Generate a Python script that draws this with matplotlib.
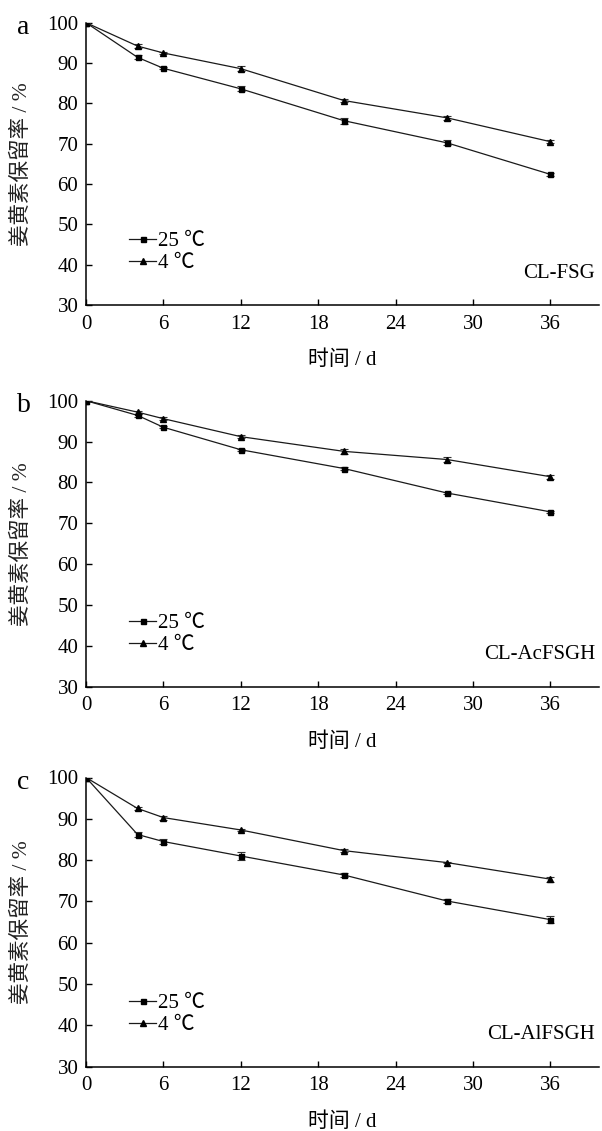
import matplotlib
matplotlib.use("Agg")
import matplotlib.pyplot as plt

plt.rcParams['font.family'] = ['Liberation Serif', 'Noto Sans CJK SC', 'DejaVu Sans']

days = [0, 4, 6, 12, 20, 28, 36]

a_25 = [100, 91.4, 88.7, 83.6, 75.7, 70.2, 62.4]
a_25_err = [0, 0.5, 0.3, 0.6, 0.7, 0.6, 0.3]
a_4 = [100, 94.2, 92.5, 88.6, 80.7, 76.4, 70.5]
a_4_err = [0, 0.5, 0.3, 0.6, 0.4, 0.5, 0.4]

b_25 = [100, 96.4, 93.5, 88.0, 83.4, 77.4, 72.8]
b_25_err = [0, 0.4, 0.3, 0.3, 0.3, 0.3, 0.3]
b_4 = [100, 97.2, 95.6, 91.2, 87.6, 85.6, 81.4]
b_4_err = [0, 0.4, 0.3, 0.3, 0.7, 0.6, 0.5]

c_25 = [100, 86.2, 84.5, 81.0, 76.4, 70.1, 65.6]
c_25_err = [0, 0.7, 0.7, 0.9, 0.5, 0.4, 0.9]
c_4 = [100, 92.5, 90.3, 87.3, 82.3, 79.4, 75.4]
c_4_err = [0, 0.4, 0.5, 0.3, 0.3, 0.2, 0.6]

panels = [
    ("a", "CL-FSG", a_25, a_25_err, a_4, a_4_err),
    ("b", "CL-AcFSGH", b_25, b_25_err, b_4, b_4_err),
    ("c", "CL-AlFSGH", c_25, c_25_err, c_4, c_4_err),
]

series_labels = ["25 ℃", "4 ℃"]
xticks = [0, 6, 12, 18, 24, 30, 36]
yticks = [30, 40, 50, 60, 70, 80, 90, 100]
xlabel = "时间 / d"
ylabel = "姜黄素保留率 / %"

W, H = 602, 1131
fig = plt.figure(figsize=(W / 100, H / 100), dpi=100)

# (top_px, bottom_px) of each panel
boxes = [(22.7, 305.0), (400.7, 686.7), (777.5, 1066.7)]
left_px, right_px = 86.0, 598.7

fs = 15
line_col = '#1a1a1a'
for (letter, name, y25, e25, y4, e4), (tp, bp) in zip(panels, boxes):
    hpx = bp - tp
    ax = fig.add_axes([left_px / W, 1 - bp / H, (right_px - left_px) / W, hpx / H])
    ax.errorbar(days, y25, yerr=e25, color=line_col, lw=0.9, marker='s', ms=3.6,
                mfc='black', mec='black',
                capsize=2.6, elinewidth=0.8, capthick=0.8, ecolor='#333333',
                label=series_labels[0])
    ax.errorbar(days, y4, yerr=e4, color=line_col, lw=0.9, marker='^', ms=4.2,
                mfc='black', mec='black',
                capsize=2.6, elinewidth=0.8, capthick=0.8, ecolor='#333333',
                label=series_labels[1])
    ax.set_xlim(0, 39.75)
    ax.set_ylim(30, 100)
    ax.set_xticks(xticks)
    ax.set_yticks(yticks)
    ax.spines['top'].set_visible(False)
    ax.spines['right'].set_visible(False)
    for s in ['left', 'bottom']:
        ax.spines[s].set_linewidth(1.1)
    ax.tick_params(direction='in', length=4.5, width=1.0, labelsize=fs)
    ax.tick_params(axis='x', pad=7)
    ax.tick_params(axis='y', pad=5.5)

    ax.set_xlabel(xlabel, fontsize=fs, fontweight='light')
    ax.xaxis.set_label_coords(0.5, -55.0 / hpx)
    ax.xaxis.label.set_va('center')
    ax.set_ylabel(ylabel, fontsize=15.5, fontweight='light', color='#222222')
    ax.yaxis.set_label_coords((21.7 - left_px) / (right_px - left_px), 0.5)
    ax.yaxis.label.set_va('center')

    h, l = ax.get_legend_handles_labels()
    h = [hh[0] for hh in h]
    ax.legend(h, l, loc='center left',
              bbox_to_anchor=((129.3 - left_px) / (right_px - left_px), 52.5 / hpx),
              frameon=False, fontsize=fs, handlelength=1.3, handletextpad=0.1,
              labelspacing=0.12, borderaxespad=0, borderpad=0)
    ax.text((595 - left_px) / (right_px - left_px), 32.0 / hpx, name,
            transform=ax.transAxes, ha='right', va='center', fontsize=fs)
    fig.text(17 / W, 1 - (tp + 11.5) / H, letter, fontsize=20, ha='left', va='baseline')

fig.savefig("out.png", dpi=100)
